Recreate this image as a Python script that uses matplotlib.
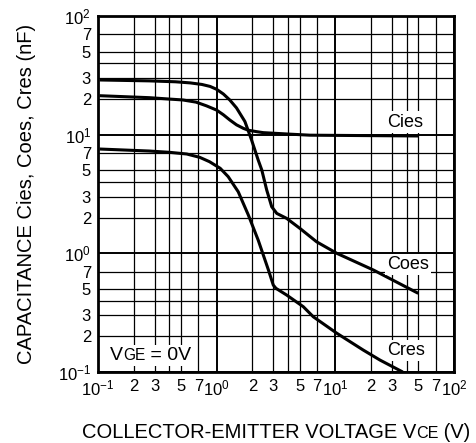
import matplotlib
matplotlib.use('Agg')
import matplotlib.pyplot as plt
from matplotlib.patches import Rectangle
from matplotlib.transforms import offset_copy, Bbox, IdentityTransform

plt.rcParams['font.family'] = ['Liberation Sans', 'DejaVu Sans']
plt.rcParams['mathtext.fontset'] = 'custom'
plt.rcParams['mathtext.rm'] = 'Liberation Sans'
plt.rcParams['mathtext.it'] = 'Liberation Sans:italic'

# curves (V in volts, C in nF)
cies_v = [0.103, 0.27, 0.52, 0.67, 0.82, 1.0, 1.14, 1.29, 1.47, 1.68, 1.85,
          2.17, 2.47, 4.15, 6.1, 50]
cies_c = [21.3, 20.5, 19.6, 18.8, 17.5, 16.1, 14.7, 13.3, 12.1, 11.3, 10.9,
          10.6, 10.4, 10.1, 9.9, 9.75]

coes_v = [0.103, 0.27, 0.45, 0.6, 0.75, 0.88, 1.0, 1.14, 1.29, 1.47, 1.73,
          1.97, 2.24, 2.40, 2.64, 2.91, 3.21, 3.89, 5.04, 6.96, 10.3, 20.9, 50]
coes_c = [28.9, 28.4, 27.9, 27.3, 26.5, 25.5, 24.1, 22.0, 19.6, 16.8, 12.9,
          9.0, 6.1, 5.04, 3.42, 2.47, 2.17, 1.97, 1.62, 1.25, 1.0, 0.724, 0.46]

cres_v = [0.103, 0.27, 0.40, 0.56, 0.72, 0.87, 1.07, 1.25, 1.52, 1.85, 2.24,
          2.73, 3.0, 3.16, 3.89, 5.37, 6.52, 10.3, 17.2, 23.8, 37]
cres_c = [7.57, 7.28, 7.1, 6.87, 6.44, 5.92, 5.21, 4.43, 3.3, 2.1, 1.29,
          0.724, 0.54, 0.507, 0.445, 0.355, 0.292, 0.212, 0.153, 0.126, 0.1]

decades = [0.1, 1, 10, 100]
decade_labels = [r'$\mathregular{10^{-1}}$', r'$\mathregular{10^{0}}$',
                 r'$\mathregular{10^{1}}$', r'$\mathregular{10^{2}}$']
minor_steps = [2, 3, 4, 5, 7]
minor_shown = ['2', '3', '', '5', '7']

fig = plt.figure(figsize=(4.77, 4.43), dpi=100)
ax = fig.add_axes([98 / 477, 1 - 372 / 443, 356 / 477, 356 / 443])
ax.set_xscale('log')
ax.set_yscale('log')
ax.set_xlim(0.1, 100)
ax.set_ylim(0.1, 100)

minor_pos = [d * s for d in decades[:-1] for s in minor_steps]
minor_lab = [l for d in decades[:-1] for l in minor_shown]

for axis in (ax.xaxis, ax.yaxis):
    axis.set_ticks(decades)
    axis.set_ticklabels(decade_labels)
    axis.set_ticks(minor_pos, minor=True)
    axis.set_ticklabels(minor_lab, minor=True)

ax.tick_params(which='both', length=0, labelsize=12, pad=5)
ax.grid(which='major', color='black', linewidth=1.4)
ax.grid(which='minor', color='black', linewidth=0.9)
for s in ax.spines.values():
    s.set_linewidth(2)

for v, c in [(cies_v, cies_c), (coes_v, coes_c), (cres_v, cres_c)]:
    ax.plot(v, c, color='black', linewidth=2.2, solid_capstyle='butt',
            solid_joinstyle='round', zorder=3)

box = dict(facecolor='white', edgecolor='none', pad=1.5)
ax.text(27.4, 11.7, 'Cies', fontsize=13, va='baseline', bbox=box, zorder=4)
ax.text(27.4, 0.738, 'Coes', fontsize=13, va='baseline', bbox=box, zorder=4)
ax.text(27.4, 0.139, 'Cres', fontsize=13, va='baseline', bbox=box, zorder=4)

renderer = fig.canvas.get_renderer()


def text_width(s, size):
    t = fig.text(0, 0, s + '|', fontsize=size)
    w1 = t.get_window_extent(renderer).width
    t.remove()
    t = fig.text(0, 0, '|', fontsize=size)
    w2 = t.get_window_extent(renderer).width
    t.remove()
    return w1 - w2


def rich_text(x, y, parts, trans, rotation=0, center=True, zorder=5):
    # pieces of different size sharing one baseline
    widths = [text_width(s, sz) for s, sz in parts]
    off = -sum(widths) / 2 if center else 0
    texts = []
    for (s, sz), w in zip(parts, widths):
        if rotation == 90:
            tr = offset_copy(trans, fig=fig, x=0, y=off, units='dots')
        else:
            tr = offset_copy(trans, fig=fig, x=off, y=0, units='dots')
        texts.append(fig.text(x, y, s, fontsize=sz, transform=tr,
                              rotation=rotation, rotation_mode='anchor',
                              ha='left', va='baseline', zorder=zorder))
        off += w
    return texts


# VGE = 0V label with a white patch behind it
vge = rich_text(0.126, 0.126, [('V', 14), ('GE', 11.2), (' = 0V', 14)],
                ax.transData, center=False)
bb = Bbox.union([t.get_window_extent(renderer) for t in vge]).padded(2)
ax.add_patch(Rectangle((bb.x0, bb.y0), bb.width, bb.height, facecolor='white',
                       edgecolor='none', transform=IdentityTransform(), zorder=4))

rich_text(276 / 477, 1 - 438 / 443,
          [('COLLECTOR-EMITTER VOLTAGE V', 14.5), ('CE', 11.6), (' (V)', 14.5)],
          fig.transFigure)
rich_text(32 / 477, 1 - 194 / 443,
          [('CAPACITANCE Cies, Coes, Cres (nF)', 14.5)],
          fig.transFigure, rotation=90)

fig.savefig('out.png', dpi=100)
